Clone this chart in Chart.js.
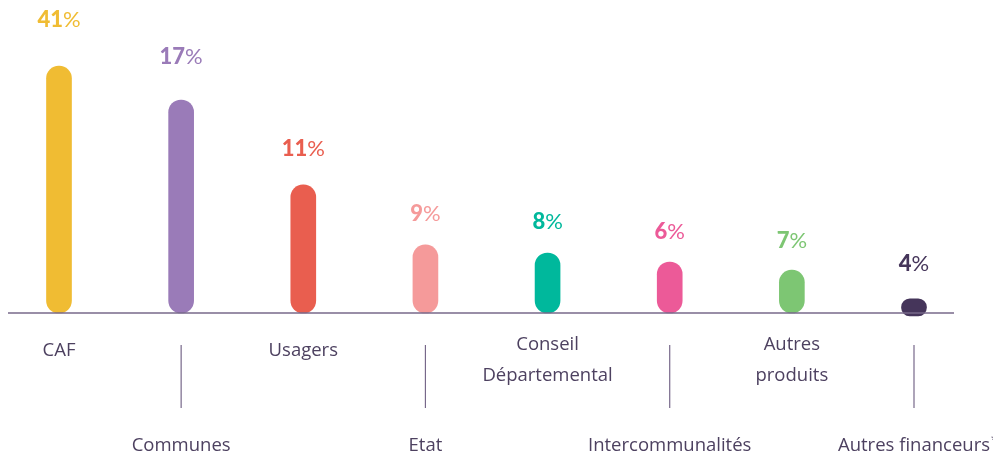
<!DOCTYPE html>
<html>
<head>
<meta charset="utf-8">
<script src="https://cdn.jsdelivr.net/npm/chart.js@4/dist/chart.umd.min.js"></script>
<style>
  html, body { margin: 0; padding: 0; background: #ffffff; }
  #financeurs { display: block; }
</style>
</head>
<body>
<canvas id="financeurs" width="993" height="454"></canvas>
<script>
// ================= DONNÉES =================
const categories = ["CAF", "Communes", "Usagers", "Etat", ["Conseil", "Départemental"], "Intercommunalités", ["Autres", "produits"], "Autres financeurs"];
const pourcentages = [41, 17, 11, 9, 8, 6, 7, 4];
// hauteur des barres (unités de l'axe)
const hauteurs = [82.3, 71, 42.7, 22.7, 20, 17, 14.3, 4.7];
const bases = [0, 0, 0, 0, 0, 0, 0, -1];
const couleurs = ["#f0bc33", "#9a7bb8", "#e95e4f", "#f59a9a", "#00b89c", "#ec5a98", "#7dc673", "#45355a"];

const TEXTE = "#4d4160";
const LIGNE = "#77688a";

// ================= PLUGINS =================
const axeEtLabels = {
    id: "axeEtLabels",
    afterDatasetsDraw(chart) {
        const ctx = chart.ctx;
        const meta = chart.getDatasetMeta(0);
        const base = chart.scales.y.getPixelForValue(0);

        // ligne de base
        ctx.save();
        ctx.strokeStyle = LIGNE;
        ctx.lineWidth = 1.5;
        ctx.beginPath();
        ctx.moveTo(chart.chartArea.left - 51, base);
        ctx.lineTo(chart.chartArea.right + 40, base);
        ctx.stroke();

        // catégories en alternance haut / bas
        ctx.fillStyle = TEXTE;
        ctx.font = "400 18.5px 'Open Sans'";
        ctx.textAlign = "center";
        ctx.textBaseline = "middle";
        meta.data.forEach((bar, i) => {
            const lignes = Array.isArray(categories[i]) ? categories[i] : [categories[i]];
            if (i % 2 === 0) {
                const y0 = lignes.length > 1 ? base + 32 : base + 38;
                lignes.forEach((t, k) => ctx.fillText(t, bar.x, y0 + k * 31));
            } else {
                ctx.strokeStyle = LIGNE;
                ctx.lineWidth = 1.2;
                ctx.beginPath();
                ctx.moveTo(bar.x, base + 32);
                ctx.lineTo(bar.x, base + 95);
                ctx.stroke();
                ctx.fillText(lignes[0], bar.x, base + 133);
                if (i === categories.length - 1) {
                    // astérisque en exposant
                    const w = ctx.measureText(lignes[0]).width;
                    ctx.save();
                    ctx.font = "400 11px 'Open Sans'";
                    ctx.textAlign = "left";
                    ctx.fillText("*", bar.x + w / 2 + 1, base + 127);
                    ctx.restore();
                }
            }
        });

        // pourcentages au-dessus des barres
        meta.data.forEach((bar, i) => {
            const h = base - bar.y;
            const y = Math.min(bar.y - (26 + 0.08 * h), base - 49);
            const num = String(pourcentages[i]);
            ctx.font = "900 22px Lato";
            const wn = ctx.measureText(num).width;
            ctx.font = "400 22px Lato";
            const wp = ctx.measureText("%").width;
            const x0 = bar.x - (wn + wp) / 2;
            ctx.fillStyle = couleurs[i];
            ctx.textAlign = "left";
            ctx.font = "900 22px Lato";
            ctx.fillText(num, x0, y);
            ctx.font = "400 22px Lato";
            ctx.fillText("%", x0 + wn, y);
        });
        ctx.restore();
    }
};

// ================= GRAPHIQUE =================
new Chart(document.getElementById("financeurs").getContext("2d"), {
    type: "bar",
    data: {
        labels: categories.map(c => Array.isArray(c) ? c.join(" ") : c),
        datasets: [{
            data: hauteurs.map((v, i) => [bases[i], v]),
            backgroundColor: couleurs,
            barThickness: 25,
            borderRadius: 13,
            borderSkipped: false,
            clip: false
        }]
    },
    options: {
        responsive: false,
        animation: false,
        devicePixelRatio: 1,
        layout: { padding: { left: 59, right: 79, top: 13, bottom: 141 } },
        plugins: { legend: { display: false }, tooltip: { enabled: false } },
        scales: {
            x: { display: false, offset: false },
            y: { display: false, min: 0, max: 100 }
        }
    },
    plugins: [axeEtLabels]
});
</script>
</body>
</html>
